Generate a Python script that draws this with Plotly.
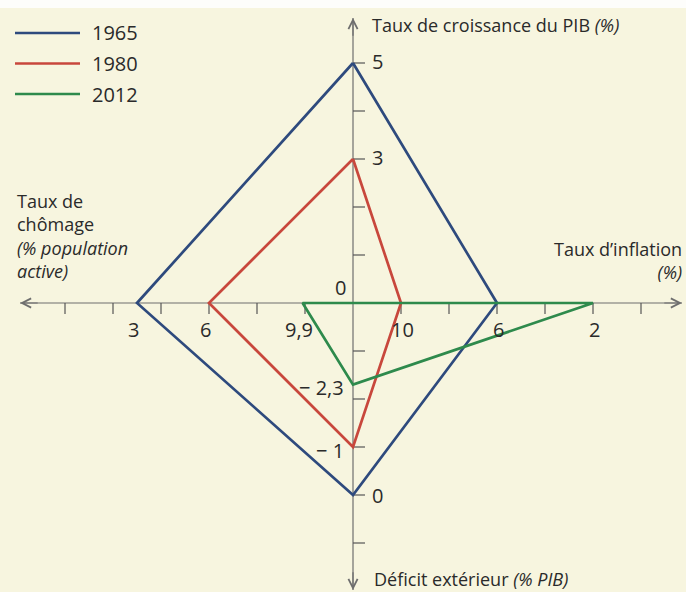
import plotly.graph_objects as go

years = ["1965", "1980", "2012"]
colors = ["#2e4a7d", "#c8473c", "#2e8a4c"]
croissance = [5, 3, 0]        # taux de croissance du PIB (%), axe du haut
inflation = [6, 10, 2]        # taux d'inflation (%), axe de droite
solde_ext = [0, -1, -2.3]     # deficit exterieur (% PIB), axe du bas
chomage = [3, 6, 9.9]         # taux de chomage (% population active), axe de gauche

W, H = 686, 592
UNIT = 48          # pixels per graduation
CX, CY = 353, 303  # pixel position of the origin
FONT = "Open Sans"
BG = "#f7f5df"
AXIS = "#6e6e6e"


# each branch of the square has its own scale, expressed in graduations
def pos_croissance(v):
    return v


def pos_inflation(v):
    return (12 - v) / 2


def pos_solde(v):
    return -(4 + v)


def pos_chomage(v):
    return -(12 - v) / 2


# french number format: 9,9 and "− 2,3"
def fr(v):
    s = ("%g" % abs(v)).replace(".", ",")
    if v < 0:
        return "\u2212 " + s
    return s


def px(x):
    return x / W


def py(y):
    return 1 - y / H


fig = go.Figure()

# the four quadrilaterals
for k in range(len(years)):
    xs = [0, pos_inflation(inflation[k]), 0, pos_chomage(chomage[k]), 0]
    ys = [pos_croissance(croissance[k]), 0, pos_solde(solde_ext[k]), 0, pos_croissance(croissance[k])]
    fig.add_trace(go.Scatter(x=xs, y=ys, mode="lines", name=years[k],
                             line=dict(color=colors[k], width=2.7),
                             showlegend=False, hoverinfo="skip"))

shapes = []
annotations = []

x_left, x_right = -(CX - 20) / UNIT, (682 - CX) / UNIT
y_top, y_bottom = (CY - 18) / UNIT, -(590 - CY) / UNIT

# thin white band at the top of the scan
shapes.append(dict(type="rect", xref="paper", yref="paper", x0=0, x1=1, y0=py(8), y1=1,
                   fillcolor="#fdfdfb", line=dict(width=0), layer="above"))

# axes lines (below the data)
shapes.append(dict(type="line", xref="x", yref="y", x0=x_left, x1=x_right, y0=0, y1=0,
                   line=dict(color=AXIS, width=1.2), layer="below"))
shapes.append(dict(type="line", xref="x", yref="y", x0=0, x1=0, y0=y_bottom, y1=y_top,
                   line=dict(color=AXIS, width=1.2), layer="below"))

# graduations
for k in range(1, 7):
    for sgn in (-1, 1):
        shapes.append(dict(type="line", xref="x", yref="y", x0=sgn * k, x1=sgn * k,
                           ysizemode="pixel", yanchor=0, y0=0, y1=-11,
                           line=dict(color="#555555", width=1.2), layer="below"))
for k in range(1, 6):
    for sgn in (-1, 1):
        shapes.append(dict(type="line", xref="x", yref="y", y0=sgn * k, y1=sgn * k,
                           xsizemode="pixel", xanchor=0, x0=0, x1=12,
                           line=dict(color="#555555", width=1.2), layer="below"))

# arrow heads at the end of each axis
for (x0, y0, x1, y1) in [(x_right - 0.4, 0, x_right, 0), (x_left + 0.4, 0, x_left, 0),
                         (0, y_top - 0.4, 0, y_top), (0, y_bottom + 0.4, 0, y_bottom)]:
    annotations.append(dict(x=x1, y=y1, ax=x0, ay=y0, xref="x", yref="y", axref="x", ayref="y",
                            text="", showarrow=True, arrowhead=5, arrowsize=1.5,
                            arrowwidth=1.2, arrowcolor=AXIS))

num_font = dict(family=FONT, size=20, color="#2a2a2a")

# value labels next to each vertex
for k in range(len(years)):
    g = croissance[k]
    if g == 0:
        annotations.append(dict(x=0, y=0, xref="x", yref="y", text=fr(g), showarrow=False,
                                xanchor="right", yanchor="middle", xshift=-5, yshift=16, font=num_font))
    else:
        annotations.append(dict(x=0, y=pos_croissance(g), xref="x", yref="y", text=fr(g), showarrow=False,
                                xanchor="left", yanchor="middle", xshift=17, yshift=2, font=num_font))

    d = solde_ext[k]
    if d >= 0:
        annotations.append(dict(x=0, y=pos_solde(d), xref="x", yref="y", text=fr(d), showarrow=False,
                                xanchor="left", yanchor="middle", xshift=17, font=num_font))
    else:
        annotations.append(dict(x=0, y=pos_solde(d), xref="x", yref="y", text=fr(d), showarrow=False,
                                xanchor="right", yanchor="middle", xshift=-7, yshift=-3, font=num_font))

    annotations.append(dict(x=pos_chomage(chomage[k]), y=0, xref="x", yref="y", text=fr(chomage[k]),
                            showarrow=False, xanchor="center", yanchor="middle", xshift=-4, yshift=-26,
                            font=num_font))
    annotations.append(dict(x=pos_inflation(inflation[k]), y=0, xref="x", yref="y", text=fr(inflation[k]),
                            showarrow=False, xanchor="center", yanchor="middle", xshift=1, yshift=-26,
                            font=num_font))

title_font = dict(family=FONT, size=18, color="#2a2a2a")
annotations.append(dict(x=px(370), y=py(25), xref="paper", yref="paper", showarrow=False,
                        text="Taux de croissance du PIB <i>(%)</i>", xanchor="left", yanchor="middle",
                        font=title_font))
annotations.append(dict(x=px(372), y=py(579), xref="paper", yref="paper", showarrow=False,
                        text="Déficit extérieur <i>(% PIB)</i>", xanchor="left", yanchor="middle",
                        font=title_font))
annotations.append(dict(x=px(684), y=py(260), xref="paper", yref="paper", showarrow=False,
                        text="Taux d\u2019inflation<br><i>(%)</i>", xanchor="right", yanchor="middle",
                        align="right", font=title_font))
annotations.append(dict(x=px(15), y=py(236), xref="paper", yref="paper", showarrow=False,
                        text="Taux de<br>chômage<br><i>(% population<br>active)</i>", xanchor="left",
                        yanchor="middle", align="left", font=title_font))

# legend drawn by hand (long line samples)
for k in range(len(years)):
    yk = 33 + 30.5 * k
    shapes.append(dict(type="line", xref="paper", yref="paper", x0=px(15), x1=px(80), y0=py(yk), y1=py(yk),
                       line=dict(color=colors[k], width=2.7)))
    annotations.append(dict(x=px(90), y=py(yk), xref="paper", yref="paper", text=years[k], showarrow=False,
                            xanchor="left", yanchor="middle", font=num_font))

fig.update_layout(
    width=W, height=H, autosize=False,
    margin=dict(l=0, r=0, t=0, b=0),
    paper_bgcolor=BG, plot_bgcolor="rgba(0,0,0,0)",
    xaxis=dict(range=[-CX / UNIT, (W - CX) / UNIT], visible=False, fixedrange=True),
    yaxis=dict(range=[-(H - CY) / UNIT, CY / UNIT], visible=False, fixedrange=True),
    shapes=shapes, annotations=annotations,
    showlegend=False,
)

# remove the default page margin so the figure fills the window
fig.write_html("out.html", config={"displayModeBar": False},
               post_script="document.body.style.margin='0';")
